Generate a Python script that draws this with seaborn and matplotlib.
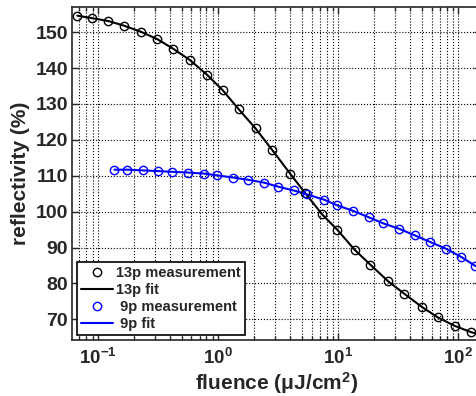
import numpy as np
import pandas as pd
import matplotlib
matplotlib.use('Agg')
import matplotlib.pyplot as plt
from matplotlib.ticker import LogLocator, NullFormatter, FixedLocator
import seaborn as sns

# ---- data ----
fluence_13p = [0.0672, 0.0896, 0.122, 0.165, 0.228, 0.310, 0.422, 0.584, 0.805,
               1.094, 1.488, 2.05, 2.82, 3.98, 5.34, 7.35, 9.87, 13.7, 18.6,
               26.1, 35.7, 50.1, 67.3, 93.3, 128.9]
refl_13p = [154.6, 153.9, 153.1, 151.8, 150.1, 148.1, 145.4, 142.2, 138.2,
            133.8, 128.5, 123.2, 117.2, 110.6, 105.1, 99.25, 94.9, 89.4, 85.2,
            80.6, 77.1, 73.4, 70.6, 68.2, 66.4]

fluence_9p = [0.137, 0.175, 0.236, 0.318, 0.416, 0.562, 0.769, 0.987, 1.34,
              1.77, 2.40, 3.14, 4.27, 5.52, 7.69, 9.75, 13.4, 18.1, 23.7,
              32.4, 43.5, 58.0, 78.9, 105.9, 138.6]
refl_9p = [111.7, 111.7, 111.5, 111.3, 111.1, 110.9, 110.6, 110.1, 109.5,
           108.9, 108.1, 107.0, 105.9, 104.8, 103.3, 101.8, 100.2, 98.4, 96.75,
           95.2, 93.4, 91.6, 89.7, 87.4, 84.9]

# fit curves follow the points and run on to the right edge
fit_x_13p = fluence_13p + [160.0]
fit_y_13p = refl_13p + [65.6]
fit_x_9p = fluence_9p + [160.0]
fit_y_9p = refl_9p + [84.3]

y_ticks = [70, 80, 90, 100, 110, 120, 130, 140, 150]

df13 = pd.DataFrame({'fluence': fluence_13p, 'refl': refl_13p})
df9 = pd.DataFrame({'fluence': fluence_9p, 'refl': refl_9p})
fit13 = pd.DataFrame({'fluence': fit_x_13p, 'refl': fit_y_13p})
fit9 = pd.DataFrame({'fluence': fit_x_9p, 'refl': fit_y_9p})

sns.set_style('ticks')
plt.rcParams['font.family'] = ['Liberation Sans', 'DejaVu Sans']
plt.rcParams['font.weight'] = 'bold'
plt.rcParams['axes.labelweight'] = 'bold'
plt.rcParams['mathtext.fontset'] = 'custom'
plt.rcParams['mathtext.rm'] = 'Liberation Sans:bold'
plt.rcParams['mathtext.it'] = 'Liberation Sans:bold'
plt.rcParams['mathtext.bf'] = 'Liberation Sans:bold'
plt.rcParams['mathtext.default'] = 'rm'

fig = plt.figure(figsize=(4.76, 3.96), dpi=100)
ax = fig.add_axes([72 / 476, 56 / 396, 409 / 476, 333.3 / 396])

sns.lineplot(data=fit13, x='fluence', y='refl', ax=ax, color='black', lw=1.5,
             estimator=None, sort=False, label='13p fit', zorder=3)
sns.lineplot(data=fit9, x='fluence', y='refl', ax=ax, color='#0000ff', lw=1.5,
             estimator=None, sort=False, label=' 9p fit', zorder=3)
sns.lineplot(data=df13, x='fluence', y='refl', ax=ax, linestyle='none', marker='o',
             markersize=6, markerfacecolor='none', markeredgecolor='black',
             markeredgewidth=1.0, estimator=None, label='13p measurement', zorder=4)
sns.lineplot(data=df9, x='fluence', y='refl', ax=ax, linestyle='none', marker='o',
             markersize=6, markerfacecolor='none', markeredgecolor='#0000ff',
             markeredgewidth=1.0, estimator=None, label=' 9p measurement', zorder=4)

ax.set_xscale('log')
ax.set_xlim(10 ** -1.217, 10 ** 2.19)
ax.set_ylim(64.25, 157.1)
ax.yaxis.set_major_locator(FixedLocator(y_ticks))
ax.xaxis.set_major_locator(LogLocator(base=10, numticks=10))
ax.xaxis.set_minor_locator(LogLocator(base=10, subs=np.arange(2, 10), numticks=20))
ax.xaxis.set_minor_formatter(NullFormatter())

ax.grid(True, which='major', axis='both', color='black', linestyle=':', lw=0.8)
ax.grid(True, which='minor', axis='x', color='black', linestyle=':', lw=0.8)
ax.tick_params(which='both', direction='in', top=True, right=True, width=1)
ax.tick_params(axis='y', pad=3, labelsize=14)
ax.tick_params(axis='x', pad=6, labelsize=13.5)
ax.tick_params(which='major', length=5)
ax.tick_params(which='minor', length=3)
for s in ax.spines.values():
    s.set_linewidth(1.2)

ax.set_xlabel('fluence (μJ/cm$^2$)', fontsize=15, labelpad=1)
ax.set_ylabel('reflectivity (%)', fontsize=15, labelpad=4)

h, l = ax.get_legend_handles_labels()
order = [l.index(k) for k in ['13p measurement', '13p fit', ' 9p measurement', ' 9p fit']]
leg = ax.legend([h[i] for i in order], [l[i] for i in order],
                loc='lower left', bbox_to_anchor=(0.012, 0.015), fancybox=False,
                framealpha=1, edgecolor='black', fontsize=10.5, handlelength=2.2,
                borderpad=0.3, labelspacing=0.2, handletextpad=0.15, borderaxespad=0)
leg.get_frame().set_linewidth(1.2)

fig.savefig('out.png', dpi=100)
